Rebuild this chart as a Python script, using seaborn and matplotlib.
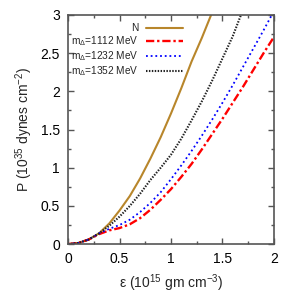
import matplotlib
matplotlib.use("Agg")
import matplotlib.pyplot as plt
import seaborn as sns
import numpy as np
import pandas as pd
from matplotlib.ticker import MultipleLocator

eps_N = [0, 0.1, 0.2, 0.3, 0.4, 0.5, 0.6, 0.7, 0.8, 0.9, 1.0, 1.1, 1.2, 1.3, 1.39]
P_N = [0, 0.015, 0.06, 0.14, 0.27, 0.44, 0.63, 0.86, 1.12, 1.40, 1.71, 2.04, 2.39, 2.70, 3.0]

eps_1352 = [0, 0.1, 0.2, 0.3, 0.4, 0.5, 0.6, 0.7, 0.8, 0.9, 1.0, 1.1, 1.2, 1.3, 1.4, 1.5, 1.6, 1.68]
P_1352 = [0, 0.015, 0.06, 0.14, 0.24, 0.36, 0.50, 0.66, 0.84, 1.0, 1.17, 1.38, 1.62, 1.87, 2.14, 2.43, 2.72, 3.0]

eps_1232 = [0, 0.1, 0.2, 0.3, 0.4, 0.5, 0.6, 0.7, 0.8, 0.9, 1.0, 1.1, 1.2, 1.3, 1.4, 1.5, 1.6, 1.7, 1.8, 1.9, 1.98]
P_1232 = [0, 0.015, 0.06, 0.14, 0.20, 0.25, 0.32, 0.42, 0.54, 0.68, 0.85, 1.03, 1.22, 1.42, 1.63, 1.85, 2.08, 2.32, 2.56, 2.80, 3.0]

eps_1112 = [0, 0.1, 0.2, 0.3, 0.4, 0.5, 0.6, 0.7, 0.8, 0.9, 1.0, 1.1, 1.2, 1.3, 1.4, 1.5, 1.6, 1.7, 1.8, 1.9, 2.0]
P_1112 = [0, 0.015, 0.06, 0.13, 0.18, 0.21, 0.26, 0.34, 0.45, 0.58, 0.72, 0.88, 1.05, 1.24, 1.44, 1.64, 1.85, 2.06, 2.28, 2.50, 2.71]

labels = ["N", r"m$_\Delta$=1112 MeV", r"m$_\Delta$=1232 MeV", r"m$_\Delta$=1352 MeV"]
colors = ["#b8862b", "#ff0000", "#0000ff", "#222222"]
x_ticks = [0, 0.5, 1, 1.5, 2]
y_ticks = [0, 0.5, 1, 1.5, 2, 2.5, 3]

sns.set_style("ticks")
plt.rcParams['font.family'] = ['Liberation Sans', 'DejaVu Sans']
plt.rcParams['mathtext.fontset'] = 'custom'
plt.rcParams['mathtext.rm'] = 'Liberation Sans'
plt.rcParams['mathtext.it'] = 'Liberation Sans'

fig = plt.figure(figsize=(3.0, 3.04), dpi=100)
ax = fig.add_axes([0.227, 0.197, 0.686, 0.754])

series = [(eps_N, P_N), (eps_1112, P_1112), (eps_1232, P_1232), (eps_1352, P_1352)]
styles = [
    dict(linestyle="-", linewidth=1.5),
    dict(linestyle=(0, (3.5, 1.2, 1.0, 1.2)), linewidth=1.7),
    dict(linestyle=(0, (1, 1.6)), linewidth=1.3),
    dict(linestyle=(0, (0.7, 0.7)), linewidth=1.5),
]
for (e, p), lab, c, st in zip(series, labels, colors, styles):
    df = pd.DataFrame({"eps": e, "P": p})
    sns.lineplot(data=df, x="eps", y="P", ax=ax, color=c, label=lab, **st)

ax.set_xlim(0, 2)
ax.set_ylim(0, 3)
ax.set_xticks(x_ticks)
ax.set_xticklabels(["0", "0.5", "1", "1.5", "2"])
ax.set_yticks(y_ticks)
ax.set_yticklabels(["0", "0.5", "1", "1.5", "2", "2.5", "3"])
ax.xaxis.set_minor_locator(MultipleLocator(0.25))
ax.yaxis.set_minor_locator(MultipleLocator(0.25))
ax.tick_params(which="both", direction="in", top=True, right=True, labelsize=10, colors="#555555", labelcolor="black")
ax.tick_params(which="major", length=4, width=1, pad=6)
ax.tick_params(which="minor", length=2, width=1)
for s in ax.spines.values():
    s.set_color("#555555")
    s.set_linewidth(1.2)

ax.set_xlabel(r"ε (10$^{15}$ gm cm$^{-3}$)", fontsize=10, labelpad=4)
ax.set_ylabel(r"P (10$^{35}$ dynes cm$^{-2}$)", fontsize=10, labelpad=4)

leg = ax.legend(loc="upper right", frameon=False, markerfirst=False, fontsize=7.3,
                handlelength=3.6, labelspacing=0.12, borderaxespad=0.0, borderpad=0.25,
                bbox_to_anchor=(0.57, 0.975), handletextpad=0.75)

fig.savefig("out.png", dpi=100)
